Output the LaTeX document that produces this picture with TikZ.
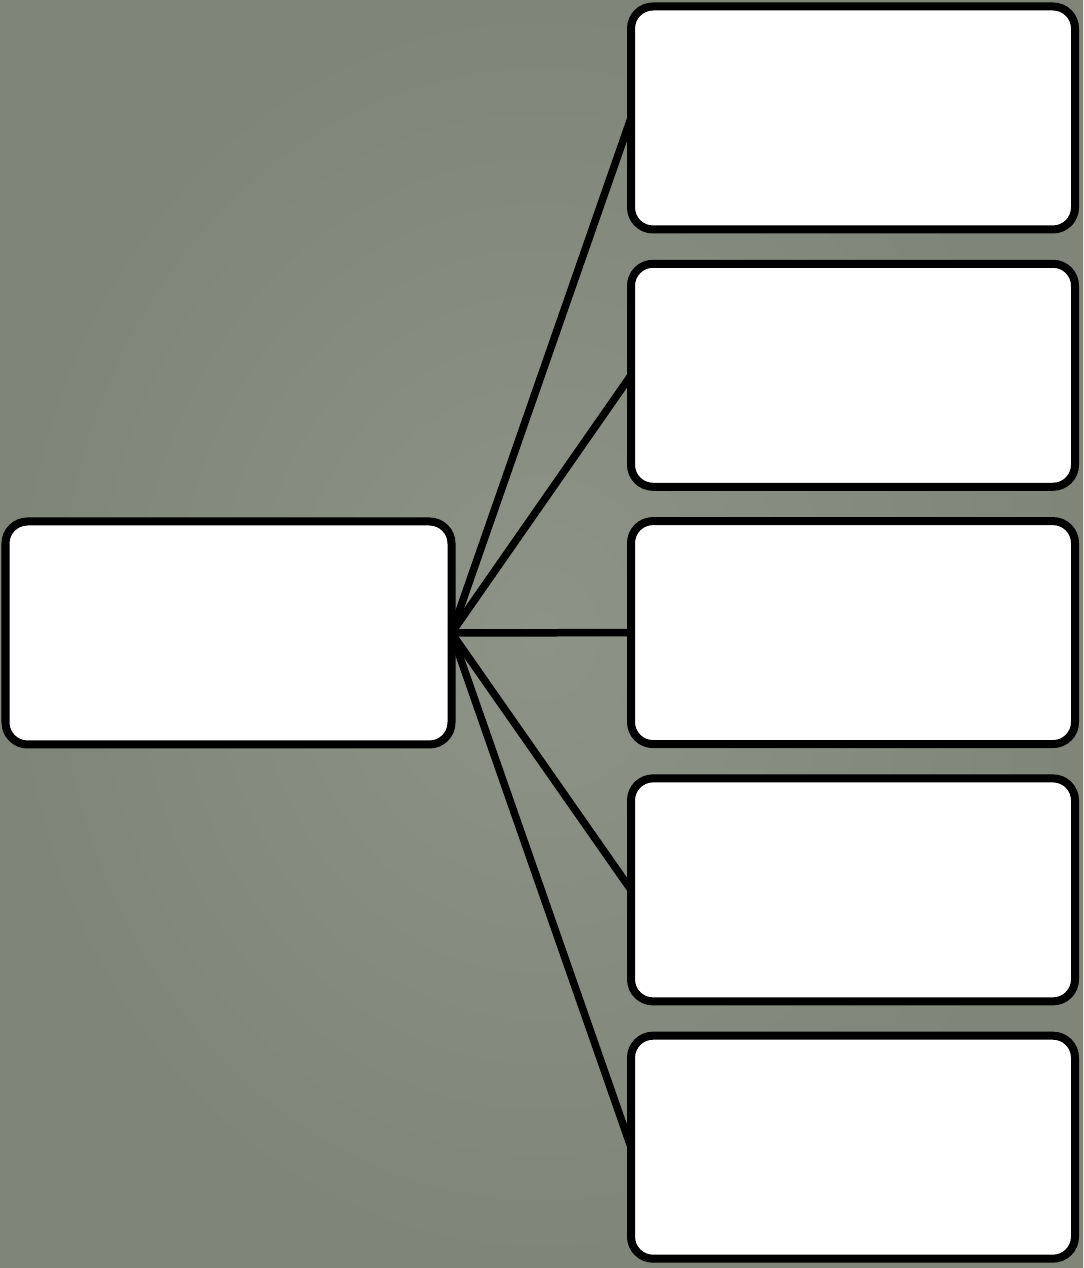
\documentclass[tikz,border=0pt]{standalone}
\usepackage{tikz}
\usetikzlibrary{
	positioning,
	calc
}
\definecolor{slatebg}{HTML}{868C80}
\definecolor{slatebglight}{HTML}{8E9388}
\definecolor{slatebgdark}{HTML}{7F8579}

\begin{document}
\begin{tikzpicture}[
		box/.style={draw=black, fill=white, rounded corners=0.22cm, line width=0.08cm, minimum width=4.44cm, minimum height=2.23cm, outer sep=0pt},
		link/.style={line width=0.075cm, draw=black}
		]
		
		% =========================
		% Background
		% =========================
		\shade[inner color=slatebglight, outer color=slatebgdark] (0,0) rectangle (10.83,12.68);
		\useasboundingbox (0,0) rectangle (10.83,12.68);
		
		% =========================
		% Root box
		% =========================
		\node[box, minimum width=4.46cm] (root) at (2.285,6.35) {};
		
		% =========================
		% Branch boxes
		% =========================
		\node[box] (branch1) at (8.53,11.50) {};
		\node[box, below=0.343cm of branch1] (branch2) {};
		\node[box, below=0.343cm of branch2] (branch3) {};
		\node[box, below=0.343cm of branch3] (branch4) {};
		\node[box, below=0.343cm of branch4] (branch5) {};
		
		% =========================
		% Links: root -> branches
		% =========================
		\draw[link] (root.east) -- (branch1.west);
		\draw[link] (root.east) -- (branch2.west);
		\draw[link] (root.east) -- (branch3.west);
		\draw[link] (root.east) -- (branch4.west);
		\draw[link] (root.east) -- (branch5.west);
		
	\end{tikzpicture}
\end{document}
